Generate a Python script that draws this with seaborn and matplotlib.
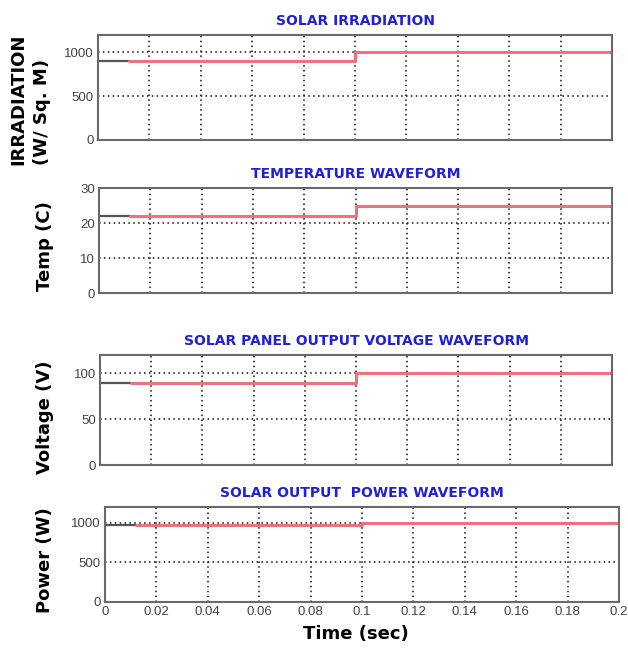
import numpy as np
import pandas as pd
import matplotlib
matplotlib.use("Agg")
import matplotlib.pyplot as plt
import seaborn as sns

# --- data ---
time_red = [0.012, 0.1, 0.2]          # red trace (steps-post)
time_init = [0.0, 0.012]              # short grey start segment

irradiation = [900, 1000, 1000]
temperature = [22, 25, 25]
voltage = [90, 100, 100]
power = [975, 1000, 1000]

titles = ["SOLAR IRRADIATION", "TEMPERATURE WAVEFORM",
          "SOLAR PANEL OUTPUT VOLTAGE WAVEFORM", "SOLAR OUTPUT  POWER WAVEFORM"]
ylims = [(0, 1200), (0, 30), (0, 120), (0, 1200)]
yticks = [[0, 500, 1000], [0, 10, 20, 30], [0, 50, 100], [0, 500, 1000]]
xticks = [0, 0.02, 0.04, 0.06, 0.08, 0.1, 0.12, 0.14, 0.16, 0.18, 0.2]
xtick_labels = ["0", "0.02", "0.04", "0.06", "0.08", "0.1",
                "0.12", "0.14", "0.16", "0.18", "0.2"]

sns.set_theme(style="white")
plt.rcParams["font.family"] = ["Liberation Sans", "DejaVu Sans"]

W, H = 628, 658
fig = plt.figure(figsize=(W / 100, H / 100), dpi=100)

# axes boxes in pixels: left, top, right, bottom
boxes = [(98, 35, 612, 140), (99, 188, 612, 293),
         (100, 355, 612, 465), (105, 507, 619, 602)]
series = [irradiation, temperature, voltage, power]

heavy = dict(family=["DejaVu Sans"], fontweight="bold")

for i, (l, t, r, b) in enumerate(boxes):
    ax = fig.add_axes([l / W, 1 - b / H, (r - l) / W, (b - t) / H])
    vals = series[i]
    df = pd.DataFrame({"t": time_red, "v": vals})
    df0 = pd.DataFrame({"t": time_init, "v": [vals[0], vals[0]]})
    sns.lineplot(data=df0, x="t", y="v", ax=ax, color="#555555", lw=1.6)
    sns.lineplot(data=df, x="t", y="v", ax=ax, color="#f0707c", lw=2.2,
                 drawstyle="steps-post")
    ax.set_xlim(0, 0.2)
    ax.set_ylim(*ylims[i])
    ax.set_xticks(xticks)
    ax.set_yticks(yticks[i])
    ax.grid(True, color="#111111", linestyle=(0, (1, 2.2)), linewidth=1.1)
    ax.set_axisbelow(True)
    ax.tick_params(direction="in", length=3, colors="#555555",
                   labelsize=9.5, labelcolor="#444444", pad=3)
    for s in ax.spines.values():
        s.set_color("#6a6a6a")
        s.set_linewidth(1.5)
    ax.set_xlabel("")
    ax.set_ylabel("")
    ax.set_title(titles[i], color="#2020d8", fontsize=10, pad=7, **heavy)
    if i < 3:
        ax.set_xticklabels([])
    else:
        ax.set_xticklabels(xtick_labels)

# y labels
lab = dict(rotation=90, ha="center", fontsize=13, color="black", **heavy)
fig.text(18 / W, 1 - 165 / H, "IRRADIATION", va="bottom", **lab)
fig.text(42 / W, 1 - 165 / H, "(W/ Sq. M)", va="bottom", **lab)
fig.text(45 / W, 1 - 246 / H, "Temp (C)", va="center", **lab)
fig.text(45 / W, 1 - 417 / H, "Voltage (V)", va="center", **lab)
fig.text(45 / W, 1 - 560 / H, "Power (W)", va="center", **lab)
fig.text(356 / W, 1 - 634 / H, "Time (sec)", ha="center", va="center",
         fontsize=13, color="black", **heavy)

fig.savefig("out.png", dpi=100, facecolor="white")
